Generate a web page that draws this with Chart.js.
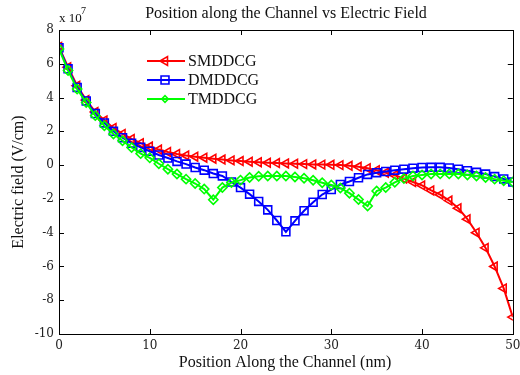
<!DOCTYPE html>
<html>
<head>
<meta charset="utf-8">
<script src="https://cdn.jsdelivr.net/npm/chart.js@4/dist/chart.umd.min.js"></script>
<style>
html,body{margin:0;padding:0;background:#fff;}
#wrap{width:520px;height:375px;position:relative;}
</style>
</head>
<body>
<div id="wrap"><canvas id="c" width="520" height="375"></canvas></div>
<script>
// Position along the channel (nm)
const positions = [0,1,2,3,4,5,6,7,8,9,10,11,12,13,14,15,16,17,18,19,20,21,22,23,24,25,26,27,28,29,30,31,32,33,34,35,36,37,38,39,40,41,42,43,44,45,46,47,48,49,50];
// Electric field, in units of 1e7 V/cm
const smddcg = [7.0,5.8,4.7,3.85,3.15,2.65,2.2,1.85,1.55,1.3,1.1,0.92,0.78,0.66,0.57,0.5,0.44,0.38,0.33,0.28,0.24,0.2,0.17,0.14,0.12,0.1,0.08,0.06,0.04,0.03,0.02,0.0,-0.04,-0.1,-0.18,-0.3,-0.45,-0.6,-0.8,-1.0,-1.2,-1.5,-1.75,-2.1,-2.55,-3.2,-4.0,-4.9,-6.0,-7.3,-9.0];
const dmddcg = [6.95,5.7,4.6,3.8,3.05,2.5,2.0,1.62,1.3,1.05,0.82,0.6,0.42,0.22,0.06,-0.14,-0.3,-0.5,-0.64,-1.0,-1.33,-1.72,-2.15,-2.65,-3.28,-3.95,-3.3,-2.7,-2.2,-1.74,-1.45,-1.15,-0.97,-0.75,-0.55,-0.45,-0.38,-0.3,-0.24,-0.18,-0.14,-0.13,-0.13,-0.17,-0.24,-0.33,-0.43,-0.53,-0.68,-0.82,-1.0];
const tmddcg = [6.88,5.6,4.5,3.7,2.93,2.33,1.84,1.44,1.04,0.68,0.43,0.08,-0.24,-0.53,-0.83,-1.09,-1.42,-2.05,-1.33,-1.03,-0.89,-0.73,-0.66,-0.65,-0.65,-0.65,-0.7,-0.78,-0.9,-1.04,-1.18,-1.36,-1.66,-2.04,-2.42,-1.53,-1.33,-1.02,-0.8,-0.64,-0.58,-0.53,-0.52,-0.52,-0.53,-0.58,-0.64,-0.73,-0.83,-0.92,-1.0];
const seriesNames = ['SMDDCG','DMDDCG','TMDDCG'];
const xTicks = [0,10,20,30,40,50];
const yTicks = [-10,-8,-6,-4,-2,0,2,4,6,8];
const chartTitle = 'Position along the Channel vs Electric Field';
const xTitle = 'Position Along the Channel (nm)';
const yTitle = 'Electric field (V/cm)';

function pts(vals){ return positions.map((p,i)=>({x:p,y:vals[i]})); }

const styles = [
  {color:'#ff0000', pointStyle:'triangle', rotation:-90, radius:5, order:3},
  {color:'#0000ff', pointStyle:'rect', rotation:0, radius:5.6, order:2},
  {color:'#00ff00', pointStyle:'rectRot', rotation:0, radius:4.6, order:1}
];
const allVals = [smddcg, dmddcg, tmddcg];

const datasets = allVals.map((v,i)=>({
  label: seriesNames[i],
  data: pts(v),
  borderColor: styles[i].color,
  backgroundColor: 'rgba(0,0,0,0)',
  borderWidth: 2,
  pointStyle: styles[i].pointStyle,
  rotation: styles[i].rotation,
  pointRadius: styles[i].radius,
  pointBorderWidth: 1.6,
  pointBorderColor: styles[i].color,
  pointBackgroundColor: 'rgba(0,0,0,0)',
  tension: 0,
  order: styles[i].order
}));

function drawMarker(ctx, style, x, y){
  ctx.save();
  ctx.strokeStyle = style.color;
  ctx.lineWidth = 1.6;
  ctx.beginPath();
  const r = style.radius;
  if (style.pointStyle === 'triangle') {
    let rad = style.rotation * Math.PI/180;
    ctx.moveTo(x + Math.sin(rad)*r, y - Math.cos(rad)*r);
    rad += 2*Math.PI/3;
    ctx.lineTo(x + Math.sin(rad)*r, y - Math.cos(rad)*r);
    rad += 2*Math.PI/3;
    ctx.lineTo(x + Math.sin(rad)*r, y - Math.cos(rad)*r);
    ctx.closePath();
  } else if (style.pointStyle === 'rect') {
    const s = r/Math.SQRT2;
    ctx.rect(x-s, y-s, 2*s, 2*s);
  } else {
    const s = r/Math.SQRT2;
    ctx.moveTo(x-s,y); ctx.lineTo(x,y+s); ctx.lineTo(x+s,y); ctx.lineTo(x,y-s); ctx.closePath();
  }
  ctx.stroke();
  ctx.restore();
}

const decor = {
  id:'decor',
  afterDraw(chart){
    const ctx = chart.ctx;
    const a = chart.chartArea;
    const xs = chart.scales.x, ys = chart.scales.y;
    ctx.save();
    // box
    ctx.strokeStyle = '#000';
    ctx.lineWidth = 1;
    ctx.strokeRect(Math.round(a.left)+0.5, Math.round(a.top)+0.5, Math.round(a.right-a.left), Math.round(a.bottom-a.top));
    // inward ticks
    const tl = 5;
    ctx.beginPath();
    xTicks.forEach(t=>{
      const px = Math.round(xs.getPixelForValue(t))+0.5;
      ctx.moveTo(px, a.bottom); ctx.lineTo(px, a.bottom-tl);
      ctx.moveTo(px, a.top); ctx.lineTo(px, a.top+tl);
    });
    yTicks.forEach(t=>{
      const py = Math.round(ys.getPixelForValue(t))+0.5;
      ctx.moveTo(a.left, py); ctx.lineTo(a.left+tl, py);
      ctx.moveTo(a.right, py); ctx.lineTo(a.right-tl, py);
    });
    ctx.stroke();
    // title
    ctx.fillStyle = '#111';
    ctx.font = '16px "Liberation Serif"';
    ctx.textAlign = 'center';
    ctx.textBaseline = 'middle';
    ctx.fillText(chartTitle, 286, 14);
    // x title
    ctx.fillText(xTitle, 285, 363);
    // y title
    ctx.save();
    ctx.translate(19, (a.top+a.bottom)/2);
    ctx.rotate(-Math.PI/2);
    ctx.fillText(yTitle, 0, 0);
    ctx.restore();
    // exponent label
    ctx.textAlign = 'left';
    ctx.font = '13px "Liberation Serif"';
    ctx.fillText('x 10', 59, 19);
    ctx.font = '10px "Liberation Serif"';
    ctx.fillText('7', 81, 11);
    // legend
    const ly = [61, 80, 99];
    ctx.font = '16px "Liberation Serif"';
    seriesNames.forEach((n,i)=>{
      const st = styles[i];
      ctx.strokeStyle = st.color;
      ctx.lineWidth = 2;
      ctx.beginPath();
      ctx.moveTo(147, ly[i]); ctx.lineTo(185, ly[i]);
      ctx.stroke();
      drawMarker(ctx, st, 165, ly[i]);
      ctx.fillStyle = '#111';
      ctx.fillText(n, 188, ly[i]+1);
    });
    ctx.restore();
  }
};

new Chart(document.getElementById('c'), {
  type:'line',
  data:{ datasets },
  options:{
    responsive:false,
    animation:false,
    layout:{ padding:{ left:0, right:6, top:30, bottom:0 } },
    plugins:{ legend:{display:false}, title:{display:false}, tooltip:{enabled:false} },
    scales:{
      x:{
        type:'linear', min:0, max:50,
        grid:{display:false, drawTicks:false},
        border:{display:false},
        afterBuildTicks(s){ s.ticks = xTicks.map(v=>({value:v})); },
        afterFit(s){ s.height = 41; s.paddingLeft = 0; s.paddingRight = 0; },
        ticks:{ padding:5, color:'#222', font:{family:'"DejaVu Serif"', size:12}, maxRotation:0 }
      },
      y:{
        type:'linear', min:-10, max:8,
        grid:{display:false, drawTicks:false},
        border:{display:false},
        afterBuildTicks(s){ s.ticks = yTicks.map(v=>({value:v})); },
        afterFit(s){ s.width = 59; s.paddingTop = 0; s.paddingBottom = 0; },
        ticks:{ padding:5, color:'#222', font:{family:'"DejaVu Serif"', size:12} }
      }
    }
  },
  plugins:[decor]
});
</script>
</body>
</html>
